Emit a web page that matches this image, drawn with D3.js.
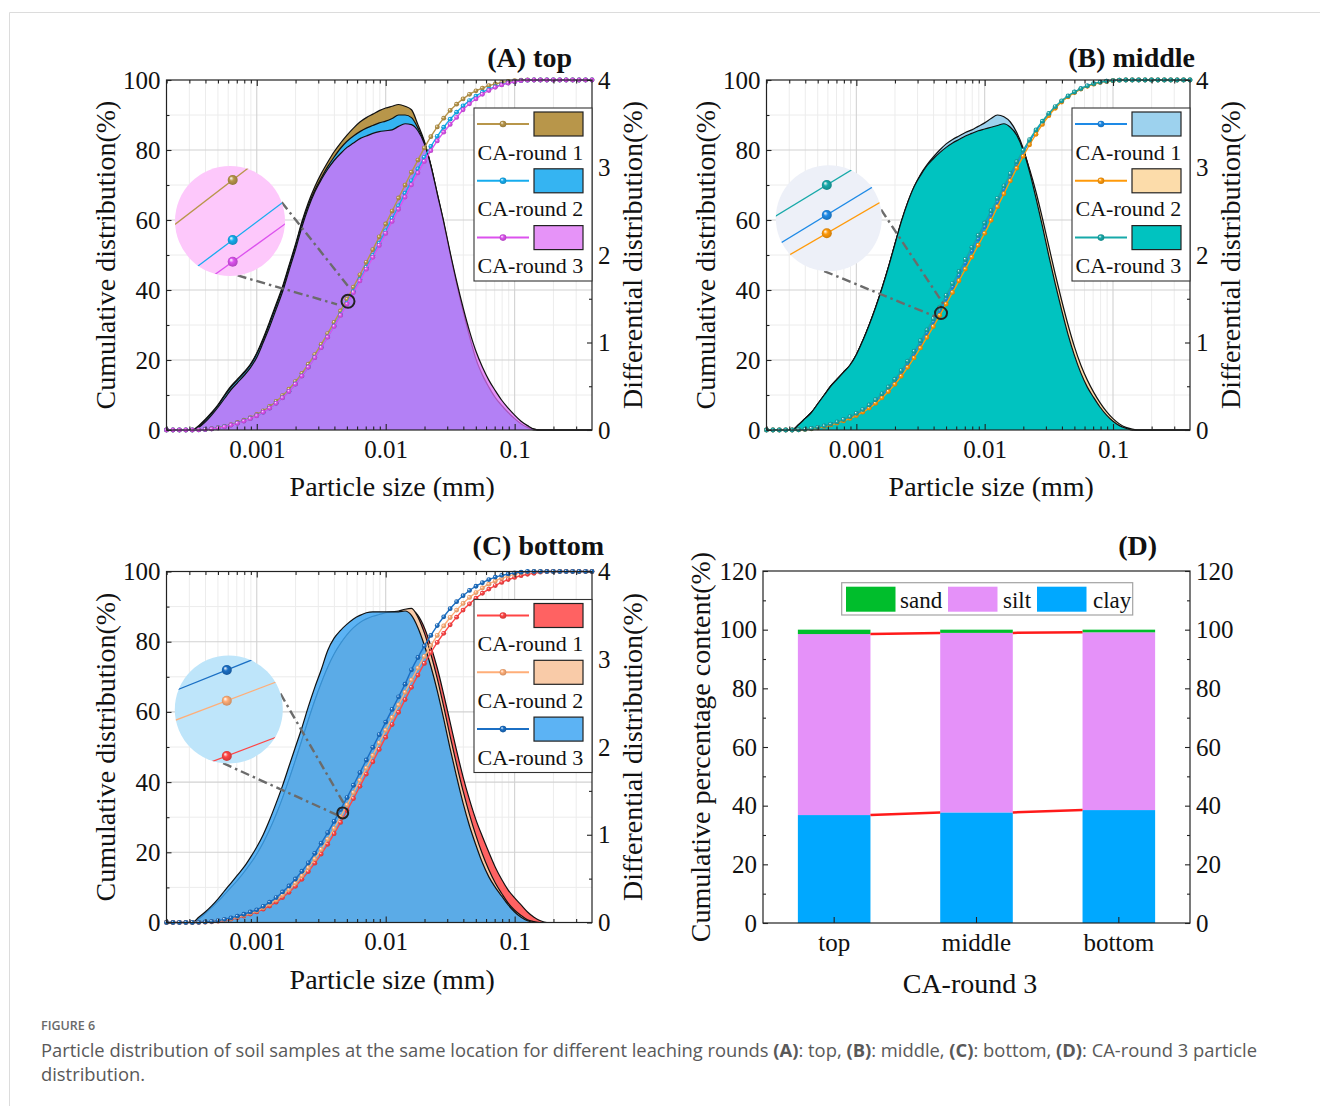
<!DOCTYPE html>
<html><head><meta charset="utf-8">
<script src="https://cdn.jsdelivr.net/npm/d3@7"></script>
<style>body{margin:0;background:#fff;} svg{display:block;}</style>
</head><body>
<svg id="chart" width="1320" height="1106"></svg>
<script>
// ---------------- DATA ----------------
// particle size classes (mm)
const sizes = [
0.0001995,0.0002239,0.0002512,0.0002818,0.0003162,0.0003548,0.0003981,0.0004467,0.0005012,0.0005623,
0.000631,0.0007079,0.0007943,0.0008913,0.001,0.001122,0.001259,0.001413,0.001585,0.001778,
0.001995,0.002239,0.002512,0.002818,0.003162,0.003548,0.003981,0.004467,0.005012,0.005623,
0.00631,0.007079,0.007943,0.008913,0.01,0.01122,0.01259,0.01413,0.01585,0.01778,
0.01995,0.02239,0.02512,0.02818,0.03162,0.03548,0.03981,0.04467,0.05012,0.05623,
0.0631,0.07079,0.07943,0.08913,0.1,0.1122,0.1259,0.1413,0.1585,0.1778,
0.1995,0.2239,0.2512,0.2818,0.3162,0.3548,0.3981];
const seriesNames = ['CA-round 1','CA-round 2','CA-round 3'];
const sizeTicks = [0.001, 0.01, 0.1];
const sizeTickLabels = ['0.001','0.01','0.1'];
const cumTicks = [0,20,40,60,80,100];
const diffTicks = [0,1,2,3,4];
const pctTicks = [0,20,40,60,80,100,120];

// (A) top — differential (%)
const diffA1 = [
0,0,0,0,0,0.05,0.12,0.2,0.29,0.4,
0.5,0.58,0.66,0.75,0.88,1.05,1.24,1.44,1.64,1.88,
2.12,2.38,2.6,2.78,2.93,3.06,3.18,3.28,3.37,3.45,
3.52,3.57,3.61,3.65,3.68,3.7,3.72,3.7,3.66,3.49,
3.3,3.02,2.68,2.35,1.98,1.64,1.32,1.03,0.77,0.6,
0.46,0.35,0.26,0.18,0.12,0.06,0.02,0,0,0,
0,0,0,0,0,0,0];
const diffA2 = [
0,0,0,0,0,0.04,0.11,0.19,0.28,0.39,
0.49,0.57,0.65,0.74,0.87,1.03,1.22,1.42,1.62,1.86,
2.1,2.36,2.57,2.74,2.88,3.01,3.12,3.22,3.3,3.36,
3.41,3.45,3.48,3.51,3.53,3.56,3.6,3.6,3.57,3.45,
3.29,3.03,2.7,2.37,2.01,1.67,1.36,1.07,0.81,0.63,
0.49,0.37,0.28,0.2,0.13,0.07,0.03,0.01,0,0,
0,0,0,0,0,0,0];
const diffA3 = [
0,0,0,0,0,0.03,0.09,0.17,0.26,0.36,
0.46,0.54,0.62,0.71,0.83,1.0,1.18,1.38,1.58,1.82,
2.06,2.32,2.54,2.72,2.86,2.98,3.08,3.16,3.23,3.28,
3.33,3.36,3.39,3.41,3.42,3.43,3.47,3.5,3.49,3.42,
3.27,3.02,2.7,2.38,2.03,1.7,1.4,1.13,0.9,0.72,
0.57,0.45,0.34,0.25,0.17,0.1,0.05,0.01,0,0,
0,0,0,0,0,0,0];
// (A) top — cumulative (%)
const cumA1 = [
0,0,0,0,0,0.05,0.17,0.37,0.66,1.06,
1.56,2.14,2.8,3.55,4.43,5.48,6.72,8.16,9.8,11.68,
13.8,16.18,18.78,21.56,24.49,27.55,30.73,34.01,37.38,40.83,
44.35,47.92,51.53,55.18,58.86,62.56,66.28,69.98,73.64,77.13,
80.6,83.8,86.6,89.1,91.3,93.1,94.6,95.9,96.9,97.7,
98.4,98.9,99.3,99.6,99.8,99.95,100,100,100,100,
100,100,100,100,100,100,100];
const cumA2 = [
0,0,0,0,0,0.04,0.14,0.32,0.58,0.95,
1.42,1.96,2.58,3.3,4.12,5.1,6.28,7.66,9.24,11.06,
13.14,15.46,18,20.74,23.62,26.62,29.74,32.96,36.26,39.62,
43,46.45,49.9,53.4,56.9,60.45,64.05,67.65,71.2,74.6,
77.9,81,83.9,86.5,88.8,90.8,92.6,94.1,95.4,96.5,
97.4,98.1,98.7,99.2,99.5,99.8,99.95,100,100,100,
100,100,100,100,100,100,100];
const cumA3 = [
0,0,0,0,0,0.03,0.12,0.29,0.55,0.91,
1.37,1.91,2.53,3.24,4.07,5.07,6.25,7.63,9.21,11.03,
13.09,15.41,17.95,20.67,23.53,26.51,29.59,32.75,35.98,39.26,
42.59,45.95,49.34,52.75,56.17,59.6,63.07,66.57,70.06,73.48,
76.75,79.8,82.6,85.1,87.3,89.3,91.5,93.2,94.6,95.9,
97,97.9,98.6,99.1,99.5,99.8,99.95,100,100,100,
100,100,100,100,100,100,100];

// (B) middle
const diffB1 = [
0,0,0,0,0,0.06,0.13,0.2,0.3,0.4,
0.5,0.58,0.66,0.74,0.86,1.02,1.2,1.4,1.62,1.86,
2.12,2.38,2.6,2.78,2.92,3.03,3.12,3.2,3.27,3.32,
3.36,3.4,3.43,3.47,3.51,3.56,3.6,3.58,3.52,3.4,
3.22,2.96,2.66,2.34,2.0,1.68,1.38,1.1,0.86,0.66,
0.5,0.38,0.27,0.18,0.11,0.06,0.02,0,0,0,
0,0,0,0,0,0,0];
const diffB2 = [
0,0,0,0,0,0.06,0.13,0.2,0.3,0.4,
0.5,0.58,0.66,0.74,0.86,1.02,1.2,1.4,1.62,1.86,
2.12,2.37,2.58,2.75,2.88,2.99,3.07,3.14,3.2,3.25,
3.29,3.33,3.36,3.38,3.4,3.42,3.43,3.43,3.4,3.33,
3.2,2.98,2.72,2.42,2.1,1.78,1.48,1.2,0.95,0.74,
0.57,0.43,0.31,0.21,0.13,0.07,0.03,0.01,0,0,
0,0,0,0,0,0,0];
const diffB3 = [
0,0,0,0,0,0.06,0.13,0.2,0.3,0.4,
0.5,0.58,0.66,0.74,0.86,1.02,1.2,1.4,1.62,1.86,
2.12,2.38,2.6,2.78,2.91,3.02,3.1,3.17,3.23,3.28,
3.32,3.36,3.39,3.42,3.44,3.46,3.48,3.5,3.46,3.37,
3.2,2.95,2.65,2.33,1.99,1.67,1.37,1.09,0.85,0.65,
0.49,0.37,0.26,0.17,0.1,0.05,0.02,0,0,0,
0,0,0,0,0,0,0];
const cumB1 = [
0,0,0,0,0,0.06,0.19,0.4,0.7,1.1,
1.6,2.18,2.85,3.6,4.5,5.55,6.8,8.25,9.9,11.8,
13.95,16.35,19,21.8,24.75,27.8,30.95,34.2,37.5,40.85,
44.25,47.7,51.15,54.6,58.1,61.65,65.25,68.85,72.4,75.9,
79.2,82.4,85.3,87.9,90.2,92.2,93.9,95.3,96.5,97.5,
98.3,98.9,99.35,99.65,99.85,99.95,100,100,100,100,
100,100,100,100,100,100,100];
const cumB2 = [
0,0,0,0,0,0.05,0.16,0.35,0.62,0.98,
1.44,1.98,2.6,3.3,4.12,5.1,6.26,7.62,9.18,10.98,
13.04,15.36,17.9,20.6,23.45,26.45,29.55,32.75,36,39.3,
42.65,46,49.4,52.8,56.2,59.9,63.8,67.5,71.2,74.8,
78.2,81.5,84.5,87.3,89.8,91.9,93.7,95.2,96.4,97.4,
98.2,98.8,99.3,99.6,99.8,99.95,100,100,100,100,
100,100,100,100,100,100,100];
const cumB3 = [
0,0,0,0,0,0.07,0.21,0.44,0.76,1.18,
1.7,2.3,3,3.8,4.75,5.85,7.15,8.65,10.35,12.3,
14.5,16.95,19.65,22.5,25.5,28.6,31.8,35.1,38.45,41.85,
45.3,48.75,52.2,55.65,59.15,62.65,66.2,69.75,73.25,76.65,
79.9,82.95,85.75,88.25,90.45,92.4,94.05,95.45,96.6,97.55,
98.35,98.95,99.4,99.7,99.85,99.95,100,100,100,100,
100,100,100,100,100,100,100];

// (C) bottom
const diffC1 = [
0,0,0,0,0,0.04,0.1,0.16,0.23,0.31,
0.39,0.47,0.56,0.66,0.77,0.9,1.05,1.22,1.41,1.62,
1.84,2.07,2.3,2.52,2.72,2.9,3.05,3.17,3.27,3.35,
3.41,3.45,3.48,3.5,3.52,3.53,3.54,3.55,3.56,3.5,
3.36,3.15,2.9,2.6,2.28,1.96,1.66,1.4,1.17,0.98,
0.8,0.63,0.49,0.37,0.28,0.2,0.12,0.06,0.02,0,
0,0,0,0,0,0,0];
const diffC2 = [
0,0,0,0,0,0.04,0.1,0.17,0.24,0.32,
0.4,0.48,0.57,0.67,0.78,0.91,1.06,1.23,1.42,1.63,
1.85,2.08,2.31,2.53,2.73,2.91,3.06,3.18,3.28,3.36,
3.42,3.46,3.49,3.51,3.53,3.54,3.55,3.57,3.58,3.48,
3.3,3.06,2.78,2.46,2.12,1.8,1.5,1.23,0.99,0.78,
0.6,0.45,0.33,0.22,0.14,0.08,0.03,0.01,0,0,
0,0,0,0,0,0,0];
const diffC3 = [
0,0,0,0,0,0.06,0.12,0.19,0.27,0.36,
0.45,0.54,0.63,0.74,0.86,1,1.17,1.36,1.56,1.78,
2,2.22,2.46,2.68,2.88,3.1,3.24,3.33,3.4,3.46,
3.5,3.53,3.54,3.54,3.54,3.54,3.54,3.55,3.5,3.36,
3.16,2.92,2.64,2.32,1.98,1.66,1.36,1.1,0.88,0.68,
0.52,0.4,0.3,0.2,0.12,0.06,0.02,0,0,0,
0,0,0,0,0,0,0];
const cumC1 = [
0,0,0,0,0,0.03,0.1,0.2,0.38,0.62,
0.95,1.35,1.85,2.4,3,3.8,4.7,5.8,7.1,8.6,
10.3,12.3,14.5,16.9,19.5,22.3,25.3,28.5,31.9,35.3,
38.8,42.3,45.8,49.3,52.8,56.4,59.9,63.5,67,70.5,
73.8,76.9,79.8,82.4,84.8,87,89,90.8,92.4,93.8,
95,96,96.9,97.7,98.3,98.8,99.2,99.5,99.8,100,
100,100,100,100,100,100,100];
const cumC2 = [
0,0,0,0,0,0.04,0.12,0.25,0.45,0.75,
1.1,1.55,2.1,2.7,3.3,4.2,5.2,6.4,7.8,9.4,
11.2,13.3,15.6,18.1,20.8,23.7,26.8,30.1,33.5,37,
40.5,44,47.6,51.2,54.8,58.4,62,65.6,69.1,72.5,
75.8,78.9,81.8,84.5,86.9,89,90.9,92.6,94,95.3,
96.4,97.3,98.1,98.7,99.2,99.6,99.85,100,100,100,
100,100,100,100,100,100,100];
const cumC3 = [
0,0,0,0,0,0.05,0.15,0.3,0.55,0.9,
1.3,1.8,2.35,3,3.6,4.6,5.8,7.1,8.7,10.4,
12.4,14.6,17,19.7,22.6,25.6,28.8,32.2,35.6,39.1,
42.7,46.3,49.9,53.5,57.1,60.7,64.3,67.9,72,75.5,
78.8,81.8,84.6,87.1,89.4,91.4,93.1,94.6,95.8,96.8,
97.7,98.4,98.9,99.3,99.6,99.8,100,100,100,100,
100,100,100,100,100,100,100];

// (D) CA-round 3 composition (%)
const categoriesD = ['top','middle','bottom'];
const clayD = [36.8, 37.7, 38.5];
const siltD = [61.7, 61.2, 60.6];
const sandD = [1.5, 1.1, 0.9];
const fractionNames = ['sand','silt','clay'];

// ---------------- DRAWING ----------------
const SERIF = "'Liberation Serif','Times New Roman',Times,serif";
const svg = d3.select('#chart');
const defs = svg.append('defs');

// page frame
svg.append('line').attr('x1',9.5).attr('x2',1320).attr('y1',12.5).attr('y2',12.5).attr('stroke','#dcdcdc');
svg.append('line').attr('x1',9.5).attr('x2',9.5).attr('y1',12.5).attr('y2',1106).attr('stroke','#dcdcdc');

function grad(color){
  const id = 'gr' + color.replace('#','');
  if (!defs.select('#'+id).empty()) return id;
  const rg = defs.append('radialGradient').attr('id',id)
    .attr('cx','50%').attr('cy','50%').attr('r','55%').attr('fx','32%').attr('fy','30%');
  rg.append('stop').attr('offset','0%').attr('stop-color','#ffffff');
  rg.append('stop').attr('offset','40%').attr('stop-color',color);
  rg.append('stop').attr('offset','100%').attr('stop-color',d3.color(color).darker(0.7).formatHex());
  return id;
}

function styleAxis(sel, size){
  sel.select('.domain').remove();
  sel.selectAll('.tick line').attr('stroke','#222').attr('stroke-width',1.1);
  sel.selectAll('.tick text').attr('font-family',SERIF).attr('font-size',size||25).attr('fill','#111');
}

const panels = [
 {key:'A', title:'(A) top', x0:166.5, x1:592, y0:80, y1:430, titleY:67, titleDx:-20,
  series:[
   {diff:diffA1, cum:cumA1, line:'#B8964A', fill:'#B8964A', op:1},
   {diff:diffA2, cum:cumA2, line:'#16ACEE', fill:'#35B4F2', op:1},
   {diff:diffA3, cum:cumA3, line:'#DC52EE', fill:'#DE6FF6', op:0.75}],
  inset:{bg:'#FDC8FB', dx:63.5, dy:141, r:55, mx:2.7, off:[-41,19,40.7], slope:[-0.77,-0.75,-0.72]},
  zoomAt:0.0051, zoomR:6.5, conn:[{ang:-20, ex:1, ey:-14},{ang:82, ex:-11, ey:3}]},
 {key:'B', title:'(B) middle', x0:766.5, x1:1190, y0:80, y1:430, titleY:67, titleDx:5,
  series:[
   {diff:diffB1, cum:cumB1, line:'#1E8AE6', fill:'#9DD2EE', op:1},
   {diff:diffB2, cum:cumB2, line:'#FF9A0A', fill:'#FCDCAA', op:1},
   {diff:diffB3, cum:cumB3, line:'#17A9A9', fill:'#00C3C0', op:1}],
  inset:{bg:'#EDF0F8', dx:62.3, dy:138.3, r:53, mx:-2, off:[-3.3,15,-33.3], slope:[-0.61,-0.58,-0.61]},
  zoomAt:0.00457, zoomR:6, conn:[{ang:-9.5, ex:4, ey:-6.7},{ang:95, ex:-6, ey:3.3}]},
 {key:'C', title:'(C) bottom', x0:166.5, x1:592, y0:571.5, y1:922.5, titleY:555, titleDx:12,
  series:[
   {diff:diffC1, cum:cumC1, line:'#FF4545', fill:'#FF6262', op:1},
   {diff:diffC2, cum:cumC2, line:'#FFAE78', fill:'#F9CBA8', op:1},
   {diff:diffC3, cum:cumC3, line:'#1B6FC4', fill:'#3FA6F2', op:0.85}],
  inset:{bg:'#BEE5FA', dx:62.3, dy:138, r:54, mx:-2, off:[46.5,-8.8,-39.5], slope:[-0.38,-0.38,-0.4]},
  zoomAt:0.00464, zoomR:5.5, conn:[{ang:-17, ex:2.3, ey:-7.4},{ang:96, ex:-4.4, ey:2.6}]}
];

function drawPSD(p){
  const g = svg.append('g');
  const x = d3.scaleLog().domain(d3.extent(sizes)).range([p.x0, p.x1]);
  const yL = d3.scaleLinear().domain([0,100]).range([p.y1, p.y0]);
  const yR = d3.scaleLinear().domain([0,4]).range([p.y1, p.y0]);
  const xt = x.ticks();
  const isMajor = t => Math.abs(Math.log10(t) - Math.round(Math.log10(t))) < 1e-6;
  const minorX = xt.filter(t => !isMajor(t));
  const minorL = [10,30,50,70,90];

  // grid
  const grid = g.append('g');
  grid.selectAll('line.vmin').data(minorX).join('line').attr('class','vmin')
    .attr('x1',d=>x(d)).attr('x2',d=>x(d)).attr('y1',p.y0).attr('y2',p.y1)
    .attr('stroke','#ececec').attr('stroke-width',1);
  grid.selectAll('line.hmin').data(minorL).join('line').attr('class','hmin')
    .attr('x1',p.x0).attr('x2',p.x1).attr('y1',d=>yL(d)).attr('y2',d=>yL(d))
    .attr('stroke','#ececec').attr('stroke-width',1);
  grid.selectAll('line.vmaj').data(sizeTicks).join('line').attr('class','vmaj')
    .attr('x1',d=>x(d)).attr('x2',d=>x(d)).attr('y1',p.y0).attr('y2',p.y1)
    .attr('stroke','#d2d2d2').attr('stroke-width',1.1);
  grid.selectAll('line.hmaj').data(cumTicks.slice(1,-1)).join('line').attr('class','hmaj')
    .attr('x1',p.x0).attr('x2',p.x1).attr('y1',d=>yL(d)).attr('y2',d=>yL(d))
    .attr('stroke','#d2d2d2').attr('stroke-width',1.1);

  // differential areas
  const area = d3.area().x(d=>x(d.s)).y0(p.y1).y1(d=>yR(d.v)).curve(d3.curveMonotoneX);
  const diffLine = d3.line().x(d=>x(d.s)).y(d=>yR(d.v)).curve(d3.curveMonotoneX);
  p.series.forEach(s => {
    const data = sizes.map((sz,j)=>({s:sz, v:s.diff[j]}));
    g.append('path').attr('d', area(data)).attr('fill', s.fill).attr('fill-opacity', s.op);
    g.append('path').attr('d', diffLine(data)).attr('fill','none').attr('stroke','#111').attr('stroke-width',1.2);
  });

  // cumulative curves
  const cumLine = d3.line().x(d=>x(d.s)).y(d=>yL(d.v)).curve(d3.curveMonotoneX);
  p.series.forEach(s => {
    const data = sizes.map((sz,j)=>({s:sz, v:s.cum[j]}));
    g.append('path').attr('d', cumLine(data)).attr('fill','none').attr('stroke', s.line).attr('stroke-width',1.4);
    const gid = grad(s.line);
    g.append('g').selectAll('circle').data(data).join('circle')
      .attr('cx',d=>x(d.s)).attr('cy',d=>yL(d.v)).attr('r',2.4)
      .attr('fill',`url(#${gid})`);
  });

  // frame
  g.append('rect').attr('x',p.x0).attr('y',p.y0).attr('width',p.x1-p.x0).attr('height',p.y1-p.y0)
    .attr('fill','none').attr('stroke','#222').attr('stroke-width',1.2);

  // axes
  const axL = g.append('g').attr('transform',`translate(${p.x0},0)`)
    .call(d3.axisLeft(yL).tickValues(cumTicks).tickSize(-5).tickPadding(6));
  styleAxis(axL);
  const axLm = g.append('g').attr('transform',`translate(${p.x0},0)`)
    .call(d3.axisLeft(yL).tickValues(minorL).tickSize(-3).tickFormat(''));
  styleAxis(axLm);
  const axR = g.append('g').attr('transform',`translate(${p.x1},0)`)
    .call(d3.axisRight(yR).tickValues(diffTicks).tickSize(-5).tickPadding(6).tickFormat(d3.format('d')));
  styleAxis(axR);
  const axRm = g.append('g').attr('transform',`translate(${p.x1},0)`)
    .call(d3.axisRight(yR).tickValues([0.5,1.5,2.5,3.5]).tickSize(-3).tickFormat(''));
  styleAxis(axRm);
  const axB = g.append('g').attr('transform',`translate(0,${p.y1})`)
    .call(d3.axisBottom(x).tickValues(sizeTicks).tickSize(-6).tickPadding(10).tickFormat((d,i)=>sizeTickLabels[i]));
  styleAxis(axB);
  const axBm = g.append('g').attr('transform',`translate(0,${p.y1})`)
    .call(d3.axisBottom(x).tickValues(minorX).tickSize(-3.5).tickFormat(''));
  styleAxis(axBm);
  const axT = g.append('g').attr('transform',`translate(0,${p.y0})`)
    .call(d3.axisTop(x).tickValues(sizeTicks).tickSize(-6).tickFormat(''));
  styleAxis(axT);
  const axTm = g.append('g').attr('transform',`translate(0,${p.y0})`)
    .call(d3.axisTop(x).tickValues(minorX).tickSize(-3.5).tickFormat(''));
  styleAxis(axTm);

  // axis titles
  const cy = (p.y0+p.y1)/2;
  g.append('text').attr('transform',`translate(${p.x0-61},${cy}) rotate(-90)`).attr('dy','0.35em')
    .attr('text-anchor','middle').attr('font-family',SERIF).attr('font-size',28).attr('fill','#111')
    .text('Cumulative distribution(%)');
  g.append('text').attr('transform',`translate(${p.x1+40},${cy}) rotate(-90)`).attr('dy','0.35em')
    .attr('text-anchor','middle').attr('font-family',SERIF).attr('font-size',28).attr('fill','#111')
    .text('Differential distribution(%)');
  g.append('text').attr('x',(p.x0+p.x1)/2+13).attr('y',p.y1+66).attr('text-anchor','middle')
    .attr('font-family',SERIF).attr('font-size',28).attr('fill','#111').text('Particle size (mm)');
  g.append('text').attr('x',p.x1+p.titleDx).attr('y',p.titleY).attr('text-anchor','end')
    .attr('font-family',SERIF).attr('font-size',28).attr('font-weight','bold').attr('fill','#111').text(p.title);

  // zoom annotation
  const ins = p.inset;
  const icx = p.x0 + ins.dx, icy = p.y0 + ins.dy;
  const mid = p.series[1].cum;
  const lz = Math.log10(p.zoomAt);
  const j = d3.bisectLeft(sizes, p.zoomAt);
  const t = (lz - Math.log10(sizes[j-1])) / (Math.log10(sizes[j]) - Math.log10(sizes[j-1]));
  const zx = x(p.zoomAt), zy = yL(mid[j-1] + t*(mid[j]-mid[j-1]));
  p.conn.forEach(c => {
    const a = c.ang*Math.PI/180;
    g.append('line').attr('x1', icx + ins.r*Math.cos(a)).attr('y1', icy + ins.r*Math.sin(a))
      .attr('x2', zx + c.ex).attr('y2', zy + c.ey)
      .attr('stroke','#6b6b6b').attr('stroke-width',2.4).attr('stroke-dasharray','9,4,2.5,4');
  });
  g.append('circle').attr('cx',zx).attr('cy',zy).attr('r',p.zoomR).attr('fill','none')
    .attr('stroke','#222').attr('stroke-width',2);
  const clipId = 'clip'+p.key;
  defs.append('clipPath').attr('id',clipId).append('circle').attr('cx',icx).attr('cy',icy).attr('r',ins.r);
  g.append('circle').attr('cx',icx).attr('cy',icy).attr('r',ins.r).attr('fill',ins.bg);
  const ig = g.append('g').attr('clip-path',`url(#${clipId})`);
  p.series.forEach((s,i) => {
    const mx = icx + ins.mx, my = icy + ins.off[i], sl = ins.slope[i];
    const xa = icx - ins.r - 2, xb = icx + ins.r + 2;
    ig.append('line').attr('x1',xa).attr('y1',my + sl*(xa-mx)).attr('x2',xb).attr('y2',my + sl*(xb-mx))
      .attr('stroke',s.line).attr('stroke-width',1.3);
    ig.append('circle').attr('cx',mx).attr('cy',my).attr('r',5).attr('fill',`url(#${grad(s.line)})`);
  });

  // legend
  const bw = 118, bx = p.x1 - bw, by = p.y0 + 28;
  const lg = g.append('g');
  lg.append('rect').attr('x',bx).attr('y',by).attr('width',bw).attr('height',173)
    .attr('fill','#fff').attr('stroke','#333').attr('stroke-width',1.1);
  p.series.forEach((s,i) => {
    const ly = by + 16 + i*56.8;
    lg.append('line').attr('x1',bx+3).attr('x2',bx+55).attr('y1',ly).attr('y2',ly)
      .attr('stroke',s.line).attr('stroke-width',2);
    lg.append('circle').attr('cx',bx+29).attr('cy',ly).attr('r',3.3).attr('fill',`url(#${grad(s.line)})`);
    lg.append('rect').attr('x',bx+60).attr('y',ly-12).attr('width',49).attr('height',24)
      .attr('fill',s.fill).attr('fill-opacity',s.op).attr('stroke','#222').attr('stroke-width',1.2);
    lg.append('text').attr('x',bx+3.5).attr('y',ly+35.5).attr('font-family',SERIF).attr('font-size',22)
      .attr('fill','#111').text(seriesNames[i]);
  });
}
panels.forEach(drawPSD);

// ---------------- Panel D ----------------
(function(){
  const p = {x0:763, x1:1190, y0:571, y1:923};
  const g = svg.append('g');
  const x = d3.scaleBand().domain(categoriesD).range([p.x0,p.x1]).paddingInner(0.49).paddingOuter(0.245);
  const y = d3.scaleLinear().domain([0,120]).range([p.y1,p.y0]);
  const table = categoriesD.map((c,i)=>({cat:c, clay:clayD[i], silt:siltD[i], sand:sandD[i]}));
  const stack = d3.stack().keys(['clay','silt','sand'])(table);
  const colors = {sand:'#00BE2C', silt:'#E591F9', clay:'#00A8FF'};
  stack.forEach(layer => {
    g.append('g').selectAll('rect').data(layer).join('rect')
      .attr('x',d=>x(d.data.cat)).attr('width',x.bandwidth())
      .attr('y',d=>y(d[1])).attr('height',d=>y(d[0])-y(d[1]))
      .attr('fill',colors[layer.key]);
  });
  // connecting red lines
  ['clay','silt'].forEach(k => {
    const layer = stack.find(l=>l.key===k);
    for (let i=0;i<layer.length-1;i++){
      g.append('line')
        .attr('x1',x(layer[i].data.cat)+x.bandwidth()).attr('y1',y(layer[i][1]))
        .attr('x2',x(layer[i+1].data.cat)).attr('y2',y(layer[i+1][1]))
        .attr('stroke','#FF1A1A').attr('stroke-width',2.5);
    }
  });
  g.append('rect').attr('x',p.x0).attr('y',p.y0).attr('width',p.x1-p.x0).attr('height',p.y1-p.y0)
    .attr('fill','none').attr('stroke','#222').attr('stroke-width',1.2);
  const minor = [10,30,50,70,90,110];
  const a1 = g.append('g').attr('transform',`translate(${p.x0},0)`)
    .call(d3.axisLeft(y).tickValues(pctTicks).tickSize(-5).tickPadding(6)); styleAxis(a1);
  const a2 = g.append('g').attr('transform',`translate(${p.x0},0)`)
    .call(d3.axisLeft(y).tickValues(minor).tickSize(-3).tickFormat('')); styleAxis(a2);
  const a3 = g.append('g').attr('transform',`translate(${p.x1},0)`)
    .call(d3.axisRight(y).tickValues(pctTicks).tickSize(-5).tickPadding(6)); styleAxis(a3);
  const a4 = g.append('g').attr('transform',`translate(${p.x1},0)`)
    .call(d3.axisRight(y).tickValues(minor).tickSize(-3).tickFormat('')); styleAxis(a4);
  const a5 = g.append('g').attr('transform',`translate(0,${p.y1})`)
    .call(d3.axisBottom(x).tickSize(-6).tickPadding(10)); styleAxis(a5);

  g.append('text').attr('transform',`translate(${p.x0-63},${(p.y0+p.y1)/2}) rotate(-90)`).attr('dy','0.35em')
    .attr('text-anchor','middle').attr('font-family',SERIF).attr('font-size',28).attr('fill','#111')
    .text('Cumulative percentage content(%)');
  g.append('text').attr('x',970).attr('y',p.y1+70).attr('text-anchor','middle')
    .attr('font-family',SERIF).attr('font-size',28).attr('fill','#111').text('CA-round 3');
  g.append('text').attr('x',p.x1-33).attr('y',555).attr('text-anchor','end')
    .attr('font-family',SERIF).attr('font-size',28).attr('font-weight','bold').attr('fill','#111').text('(D)');

  // legend
  const lg = g.append('g');
  lg.append('rect').attr('x',841.7).attr('y',582.7).attr('width',291).attr('height',32.3)
    .attr('fill','#fff').attr('stroke','#a3a3a3').attr('stroke-width',1.2);
  const items = [{k:'sand', sx:846, tx:900},{k:'silt', sx:948, tx:1003},{k:'clay', sx:1037, tx:1093}];
  items.forEach((it,i) => {
    lg.append('rect').attr('x',it.sx).attr('y',586.7).attr('width',49.5).attr('height',25).attr('fill',colors[it.k]);
    lg.append('text').attr('x',it.tx).attr('y',607.5).attr('font-family',SERIF).attr('font-size',23)
      .attr('fill','#111').text(fractionNames[i]);
  });
})();

// ---------------- Caption ----------------
const SANS = "'Open Sans','Noto Sans',sans-serif";
svg.append('text').attr('x',41).attr('y',1030).attr('font-family',SANS).attr('font-size',12.5)
  .attr('font-weight',600).attr('fill','#6a6a6a').text('FIGURE 6');
const cap = svg.append('text').attr('x',41).attr('y',1057).attr('font-family',SANS)
  .attr('font-size',16.5).attr('fill','#595959');
const parts = [
 ['Particle distribution of soil samples at the same location for different leaching rounds ',false],
 ['(A)',true],[': top, ',false],['(B)',true],[': middle, ',false],['(C)',true],[': bottom, ',false],
 ['(D)',true],[': CA-round 3 particle',false]];
parts.forEach(([t,b]) => cap.append('tspan').attr('font-weight', b?700:400).text(t));
const w = cap.node().getComputedTextLength();
const capSize = w > 0 ? 16.5*1217/w : 16.5;
cap.attr('font-size', capSize);
svg.append('text').attr('x',41).attr('y',1081).attr('font-family',SANS)
  .attr('font-size', capSize).attr('fill','#595959').text('distribution.');
</script>
</body></html>
